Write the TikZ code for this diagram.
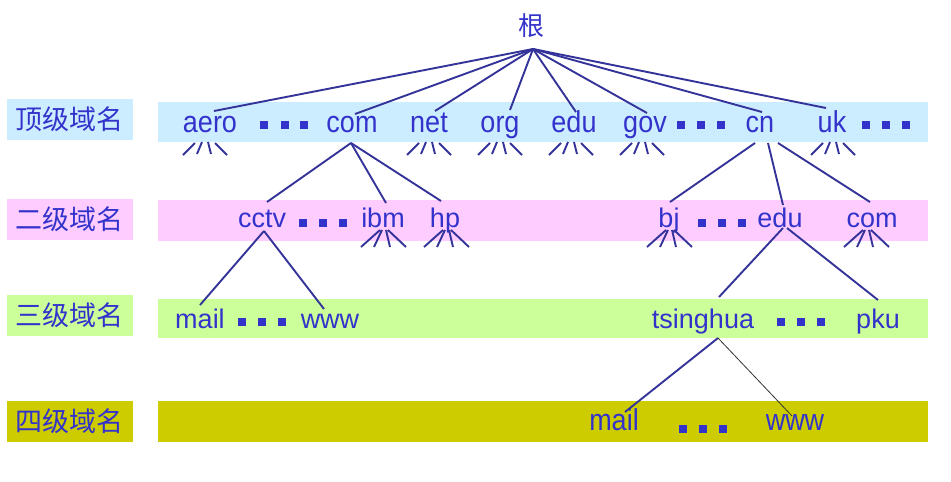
\documentclass[tikz,border=0pt]{standalone}
\usepackage{fontspec}
\setmainfont{Liberation Sans}
\newfontfamily\cjk{Noto Sans CJK SC}
\usetikzlibrary{calc}
\definecolor{txtblue}{HTML}{3333CC}
\definecolor{lnblue}{HTML}{333399}
\definecolor{bandA}{HTML}{CCECFF}
\definecolor{bandB}{HTML}{FFCCFF}
\definecolor{bandC}{HTML}{CCFF99}
\definecolor{bandD}{HTML}{CCCC00}
\tikzset{
  ln/.style={draw=lnblue, line width=1.9pt},
  thinln/.style={draw=black!80, line width=0.8pt},
  dom/.style={anchor=base, inner sep=0pt, text=txtblue, font=\fontsize{27}{27}\selectfont},
  lvl/.style={inner sep=0pt, minimum width=126pt, minimum height=41pt, text=txtblue, font=\cjk\fontsize{27}{27}\selectfont},
  sq/.style={fill=txtblue},
  fanA/.pic={\draw[ln] (-10,0)--(-22,12) (-3,-1)--(-8,11) (3,-1)--(6,11) (10,0)--(22,12);},
  fanB/.pic={\draw[ln] (-3,0)--(-22,17) (-1,0)--(-9,17) (3,0)--(7,17) (5,0)--(23,17);}
}
\newcommand{\tall}[1]{\scalebox{1}[1.12]{#1}}
\begin{document}
\begin{tikzpicture}[x=1pt,y=-1pt]
\useasboundingbox (0,0) rectangle (951,482);
% bands
\fill[bandA] (158,102) rectangle (928,142);
\fill[bandB] (158,200) rectangle (928,241);
\fill[bandC] (158,299) rectangle (928,338);
\fill[bandD] (158,401) rectangle (928,442);
% level labels
\node[lvl, fill=bandA] (l1) at (70,119.5) {顶级域名};
\node[lvl, fill=bandB] (l2) at (70,219.5) {二级域名};
\node[lvl, fill=bandC] (l3) at (70,315.5) {三级域名};
\node[lvl, fill=bandD] (l4) at (70,421.5) {四级域名};
% root
\node[anchor=base, inner sep=0pt, text=txtblue, font=\cjk\fontsize{26}{26}\selectfont] (root) at (531,35) {根};
% row 1
\node[dom] (aero) at (210,132) {\tall{aero}};
\node[dom] (com) at (352,132) {\tall{com}};
\node[dom] (net) at (429,132) {\tall{net}};
\node[dom] (org) at (500,132) {\tall{org}};
\node[dom] (edu) at (574,132) {\tall{edu}};
\node[dom] (gov) at (645,132) {\tall{gov}};
\node[dom] (cn) at (760,132) {\tall{cn}};
\node[dom] (uk) at (832,132) {\tall{uk}};
\foreach \x in {264,285,304,681,701,721,866,886,906} {\fill[sq] (\x-4,121) rectangle (\x+4,129);}
% row 2
\node[dom] (cctv) at (262,227) {cctv};
\node[dom] (ibm) at (383,227) {ibm};
\node[dom] (hp) at (445,227) {hp};
\node[dom] (bj) at (669,227) {bj};
\node[dom] (edu2) at (780,227) {edu};
\node[dom] (com2) at (872,227) {com};
\foreach \x in {303,323,343,702,722,742} {\fill[sq] (\x-4,219) rectangle (\x+4,227);}
% row 3
\node[dom] (mail3) at (200,328) {mail};
\node[dom] (www3) at (330,328) {www};
\node[dom] (tsinghua) at (703,328) {tsinghua};
\node[dom] (pku) at (878,328) {pku};
\foreach \x in {242,262,282,781,801,821} {\fill[sq] (\x-4,318) rectangle (\x+4,326);}
% row 4
\node[dom] (mail4) at (614,430) {\tall{mail}};
\node[dom] (www4) at (795,430) {\tall{www}};
\foreach \x in {683,703,723} {\fill[sq] (\x-4,425) rectangle (\x+4,432.5);}
% attachment coordinates
\coordinate (root-b) at (533,49);
\coordinate (aero-t) at (214,111);
\coordinate (com-t) at (355,114);
\coordinate (net-t) at (435,111);
\coordinate (org-t) at (510,110);
\coordinate (edu-t) at (576,112);
\coordinate (gov-t) at (647,113);
\coordinate (cn-t) at (762,112);
\coordinate (uk-t) at (826,108);
\coordinate (com-b) at (351,143);
\coordinate (cctv-t) at (267,202);
\coordinate (ibm-t) at (386,203);
\coordinate (hp-t) at (441,201);
\coordinate (cn-b1) at (755,143);
\coordinate (cn-b2) at (768,143);
\coordinate (cn-b3) at (778,143);
\coordinate (bj-t) at (670,202);
\coordinate (edu2-t) at (783,205);
\coordinate (com2-t) at (870,202);
\coordinate (cctv-b) at (264,231);
\coordinate (mail3-t) at (200,305);
\coordinate (www3-t) at (324,309);
\coordinate (edu2-b1) at (783,228);
\coordinate (edu2-b2) at (787,228);
\coordinate (tsinghua-t) at (719,297);
\coordinate (pku-t) at (878,300);
\coordinate (tsinghua-b) at (718,338);
\coordinate (mail4-t) at (625,412);
\coordinate (www4-t) at (792,416);
% connectors
\foreach \t in {aero,com,net,org,edu,gov,cn,uk} {\draw[ln] (root-b) -- (\t-t);}
\draw[ln] (com-b) -- (cctv-t);
\draw[ln] (com-b) -- (ibm-t);
\draw[ln] (com-b) -- (hp-t);
\draw[ln] (cn-b1) -- (bj-t);
\draw[ln] (cn-b2) -- (edu2-t);
\draw[ln] (cn-b3) -- (com2-t);
\draw[ln] (cctv-b) -- (mail3-t);
\draw[ln] (cctv-b) -- (www3-t);
\draw[ln] (edu2-b1) -- (tsinghua-t);
\draw[ln] (edu2-b2) -- (pku-t);
\draw[ln] (tsinghua-b) -- (mail4-t);
\draw[thinln] (tsinghua-b) -- (www4-t);
% fans
\foreach \x in {205,429,500,571,642,833} {\pic at (\x,143) {fanA};}
\foreach \x in {383,446,669,866} {\pic at (\x,230) {fanB};}
\end{tikzpicture}
\end{document}
